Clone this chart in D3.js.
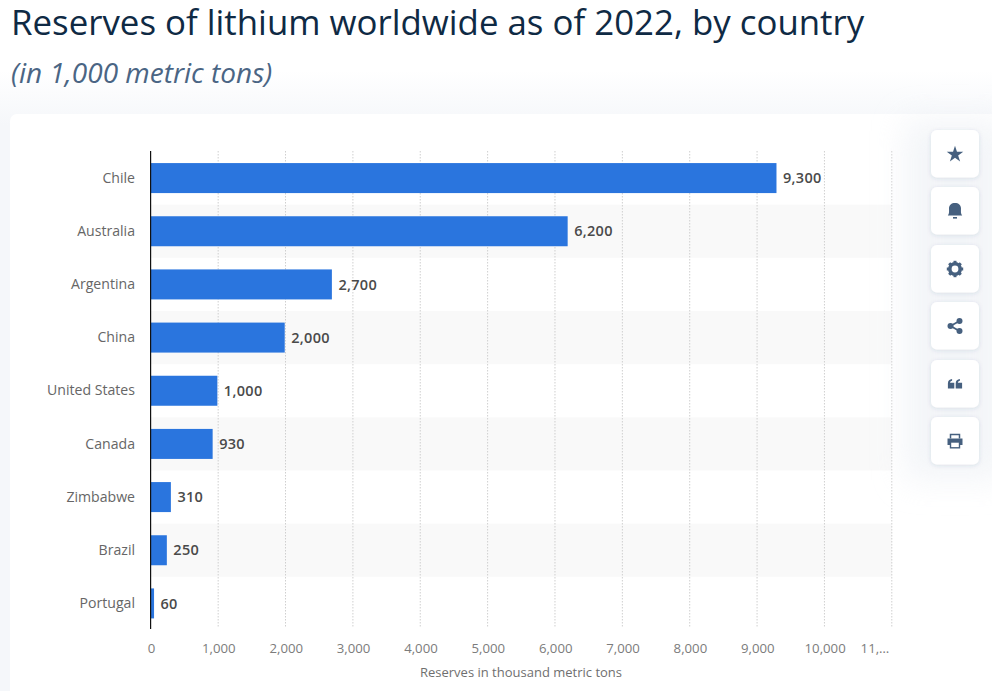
<!DOCTYPE html>
<html>
<head>
<meta charset="utf-8">
<script src="https://cdn.jsdelivr.net/npm/d3@7"></script>
<style>
  html, body { margin: 0; padding: 0; background: #fff; overflow: hidden; }
  svg { display: block; }
  text { font-family: "Open Sans", sans-serif; }
</style>
</head>
<body>
<script>
const countries = ["Chile", "Australia", "Argentina", "China", "United States", "Canada", "Zimbabwe", "Brazil", "Portugal"];
const reserves = [9300, 6200, 2700, 2000, 1000, 930, 310, 250, 60];
const xTicks = [0, 1000, 2000, 3000, 4000, 5000, 6000, 7000, 8000, 9000, 10000, 11000];

const w = 992, h = 691;
const svg = d3.select("body").append("svg").attr("width", w).attr("height", h).attr("viewBox", [0, 0, w, h]);

const defs = svg.append("defs");
const bgGrad = defs.append("linearGradient").attr("id", "pagebg").attr("x1", 0).attr("x2", 0).attr("y1", 0).attr("y2", 1);
bgGrad.append("stop").attr("offset", 0).attr("stop-color", "#ffffff");
bgGrad.append("stop").attr("offset", 1).attr("stop-color", "#f5f7fa");
const soft = defs.append("filter").attr("id", "btnshadow").attr("x", "-80%").attr("y", "-80%").attr("width", "260%").attr("height", "260%");
soft.append("feDropShadow").attr("dx", 0).attr("dy", 1).attr("stdDeviation", 2).attr("flood-color", "#2a4a70").attr("flood-opacity", 0.13);
const halo = defs.append("filter").attr("id", "halo").attr("x", "-100%").attr("y", "-20%").attr("width", "300%").attr("height", "140%");
halo.append("feGaussianBlur").attr("stdDeviation", 16);

// page + card
svg.append("rect").attr("y", 70).attr("width", w).attr("height", 55).attr("fill", "url(#pagebg)");
svg.append("rect").attr("y", 125).attr("width", 10).attr("height", h - 125).attr("fill", "#f5f7fa");
svg.append("rect").attr("x", 10).attr("y", 114).attr("width", w + 20).attr("height", h).attr("rx", 7).attr("fill", "#fff");

// title
svg.append("text").attr("x", 11).attr("y", 35).attr("font-size", 34.85).attr("font-weight", 500).attr("fill", "#0f2a44")
  .text("Reserves of lithium worldwide as of 2022, by country");
svg.append("text").attr("x", 11).attr("y", 83).attr("font-size", 28).attr("font-style", "italic").attr("fill", "#4a6584")
  .text("(in 1,000 metric tons)");

// chart
const x = d3.scaleLinear().domain([0, 11000]).range([150, 891]);
const y = d3.scaleBand().domain(countries).range([151.5, 630]).paddingInner(0).paddingOuter(0);
const barH = 30;

// stripes on every second row
svg.append("g").selectAll("rect")
  .data(countries.filter((d, i) => i % 2 === 1))
  .enter().append("rect")
  .attr("x", 151).attr("width", x(11000) - 150)
  .attr("y", d => y(d)).attr("height", y.bandwidth())
  .attr("fill", "#f9f9f9");

// grid
svg.append("g").selectAll("line")
  .data(xTicks.slice(1))
  .enter().append("line")
  .attr("x1", d => x(d) + 0.8).attr("x2", d => x(d) + 0.8)
  .attr("y1", 151).attr("y2", 628)
  .attr("stroke", "#cfcfcf").attr("stroke-width", 1).attr("stroke-dasharray", "1.5,1.5");

// bars
const rows = countries.map((c, i) => ({ country: c, value: reserves[i] }));
svg.append("g").selectAll("rect")
  .data(rows)
  .enter().append("rect")
  .attr("x", 151).attr("width", d => x(d.value) - 151)
  .attr("y", d => y(d.country) + (y.bandwidth() - barH) / 2).attr("height", barH)
  .attr("fill", "#2a75de");

// value labels
svg.append("g").selectAll("text")
  .data(rows)
  .enter().append("text")
  .attr("x", d => x(d.value) + 6.5)
  .attr("y", d => y(d.country) + y.bandwidth() / 2 + 5.1)
  .attr("font-size", 14.5).attr("font-weight", 600).attr("letter-spacing", 0.3).attr("fill", "#4a4a4a")
  .text(d => d3.format(",")(d.value));

// category labels
svg.append("g").selectAll("text")
  .data(countries)
  .enter().append("text")
  .attr("x", 135).attr("y", d => y(d) + y.bandwidth() / 2 + 4.7)
  .attr("text-anchor", "end").attr("font-size", 14.1).attr("fill", "#666")
  .text(d => d);

// baseline
svg.append("line").attr("x1", 150.6).attr("x2", 150.6).attr("y1", 151).attr("y2", 629).attr("stroke", "#111").attr("stroke-width", 1.2);

// x axis labels, last one gets cut off in the original
svg.append("g").selectAll("text")
  .data(xTicks)
  .enter().append("text")
  .attr("x", d => d === 11000 ? x(d) - 16 : x(d) + 1.5)
  .attr("y", 653)
  .attr("text-anchor", "middle").attr("font-size", 13.2).attr("fill", "#7c7c7c")
  .text(d => d === 11000 ? "11,…" : d3.format(",")(d));

svg.append("text").attr("x", 521).attr("y", 677).attr("text-anchor", "middle").attr("font-size", 13).attr("fill", "#6f6f6f")
  .text("Reserves in thousand metric tons");

// side buttons
const btnTops = [130, 187, 245, 302, 360, 417];
const iconColor = "#46607f";
svg.append("rect").attr("x", 905).attr("y", 120).attr("width", 100).attr("height", 360).attr("fill", "#e9edf3").attr("opacity", 0.55).attr("filter", "url(#halo)");
const btns = svg.append("g").selectAll("g").data(btnTops).enter().append("g")
  .attr("transform", d => `translate(931,${d})`);
btns.append("rect").attr("width", 48).attr("height", 47.5).attr("rx", 6).attr("fill", "#fff").attr("filter", "url(#btnshadow)");

const icons = [
  // star
  g => g.append("path").attr("d", d3.symbol(d3.symbolStar, 85)()).attr("transform", "translate(0,0.5)"),
  // bell
  g => {
    g.append("path").attr("d", "M-7.2,4.5 C-5.5,2.5 -6,0 -6,-2.5 C-6,-6 -3.5,-8 0,-8 C3.5,-8 6,-6 6,-2.5 C6,0 5.5,2.5 7.2,4.5 Z");
    g.append("rect").attr("x", -2).attr("y", 6).attr("width", 4).attr("height", 1.6);
  },
  // gear
  g => {
    g.append("circle").attr("r", 5.2).attr("fill", "none").attr("stroke", iconColor).attr("stroke-width", 3.6);
    d3.range(8).forEach(i => g.append("rect").attr("x", -1.5).attr("y", -8.2).attr("width", 3).attr("height", 3).attr("transform", `rotate(${i * 45})`));
  },
  // share
  g => {
    g.append("path").attr("d", "M4.5,-5 L-4.5,0 L4.5,5").attr("fill", "none").attr("stroke", iconColor).attr("stroke-width", 1.8);
    [[4.5, -5], [-4.5, 0], [4.5, 5]].forEach(p => g.append("circle").attr("cx", p[0]).attr("cy", p[1]).attr("r", 3));
  },
  // quote
  g => {
    [-3.9, 3.9].forEach(dx => g.append("path")
      .attr("transform", `translate(${dx},0)`)
      .attr("d", "M-3.2,-0.5 C-3.2,-3.4 -1.5,-4.8 1,-5 L1,-3.2 C-0.3,-3 -1,-2.4 -1,-1.2 L3.2,-1.2 L3.2,4.6 L-3.2,4.6 Z"));
  },
  // print
  g => {
    g.append("path").attr("d", "M-4.5,-2.5 L-4.5,-6.5 L4.5,-6.5 L4.5,-2.5").attr("fill", "none").attr("stroke", iconColor).attr("stroke-width", 1.5);
    g.append("path").attr("d", "M-7.5,-2.5 L7.5,-2.5 L7.5,4 L-7.5,4 Z");
    g.append("rect").attr("x", -4.5).attr("y", 1).attr("width", 9).attr("height", 5.8).attr("fill", "#fff").attr("stroke", iconColor).attr("stroke-width", 1.4);
  }
];
btns.each(function (d, i) {
  const g = d3.select(this).append("g").attr("transform", "translate(24,24)").attr("fill", iconColor);
  icons[i](g);
});
</script>
</body>
</html>
